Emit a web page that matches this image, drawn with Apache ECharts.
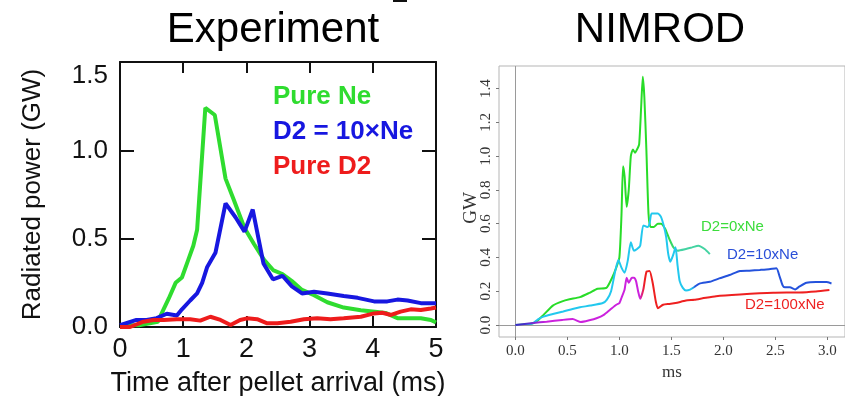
<!DOCTYPE html>
<html>
<head>
<meta charset="utf-8">
<script src="https://cdn.jsdelivr.net/npm/echarts@6/dist/echarts.min.js"></script>
<style>
html,body{margin:0;padding:0;background:#fff;}
#chart{width:845px;height:396px;}
</style>
</head>
<body>
<div id="chart"></div>
<script>
// ---------- Experiment panel data (time ms, power GW) ----------
var expPureNe = [[0,0.01],[0.3,0.01],[0.6,0.03],[0.65,0.07],[0.77,0.16],[0.88,0.25],[0.98,0.28],[1.08,0.38],[1.16,0.46],[1.22,0.55],[1.35,1.24],[1.5,1.2],[1.67,0.84],[1.8,0.72],[1.97,0.56],[2.12,0.47],[2.28,0.38],[2.43,0.32],[2.57,0.30],[2.72,0.26],[2.88,0.21],[3.07,0.18],[3.28,0.14],[3.54,0.11],[3.81,0.095],[4.07,0.085],[4.2,0.08],[4.39,0.05],[4.6,0.05],[4.76,0.05],[4.92,0.04],[5.0,0.025]];
var expD2x10 = [[0,0.01],[0.26,0.04],[0.42,0.04],[0.58,0.05],[0.74,0.075],[0.9,0.065],[0.98,0.1],[1.11,0.15],[1.22,0.19],[1.3,0.25],[1.38,0.34],[1.51,0.42],[1.67,0.70],[1.83,0.62],[1.97,0.54],[2.1,0.665],[2.27,0.36],[2.42,0.27],[2.57,0.29],[2.72,0.23],[2.88,0.19],[3.07,0.2],[3.28,0.19],[3.54,0.175],[3.76,0.165],[4.02,0.145],[4.23,0.145],[4.39,0.155],[4.55,0.15],[4.76,0.135],[5.0,0.135]];
var expPureD2 = [[0,0.0],[0.16,0.0],[0.37,0.03],[0.53,0.04],[0.69,0.04],[0.9,0.044],[1.11,0.044],[1.27,0.036],[1.43,0.058],[1.59,0.04],[1.75,0.011],[1.9,0.04],[2.01,0.049],[2.17,0.044],[2.33,0.021],[2.49,0.021],[2.7,0.03],[2.91,0.044],[3.12,0.049],[3.33,0.044],[3.54,0.049],[3.81,0.058],[4.02,0.077],[4.15,0.081],[4.29,0.068],[4.44,0.087],[4.6,0.1],[4.76,0.096],[4.92,0.105],[5.0,0.11]];
var expXTicks = [0,1,2,3,4,5];
var expYTicks = [0,0.5,1.0,1.5];

// ---------- NIMROD panel data (ms, GW) ----------
var nimD2x0 = [[0,0],[0.14,0.006],[0.2,0.02],[0.27,0.06],[0.36,0.115],[0.45,0.14],[0.52,0.152],[0.62,0.165],[0.71,0.19],[0.79,0.215],[0.875,0.22],[0.93,0.28],[0.97,0.34],[1.0,0.40],[1.02,0.65],[1.035,0.94],[1.05,0.88],[1.07,0.70],[1.09,0.80],[1.11,1.0],[1.13,1.04],[1.15,1.02],[1.17,1.04],[1.19,1.07],[1.21,1.3],[1.225,1.47],[1.24,1.35],[1.26,1.03],[1.28,0.66],[1.30,0.58],[1.33,0.58],[1.37,0.60],[1.40,0.60],[1.44,0.57],[1.48,0.51],[1.52,0.46],[1.56,0.44],[1.64,0.45],[1.70,0.46],[1.76,0.47],[1.82,0.45],[1.87,0.42]];
var nimD2x10 = [[0,0],[0.1,0.002],[0.17,0.01],[0.22,0.035],[0.27,0.05],[0.36,0.065],[0.46,0.08],[0.55,0.095],[0.62,0.105],[0.72,0.115],[0.84,0.13],[0.88,0.15],[0.92,0.2],[0.96,0.32],[0.99,0.385],[1.02,0.34],[1.05,0.31],[1.08,0.38],[1.11,0.49],[1.14,0.44],[1.17,0.45],[1.20,0.47],[1.23,0.59],[1.27,0.58],[1.29,0.6],[1.31,0.66],[1.37,0.66],[1.40,0.64],[1.43,0.58],[1.45,0.52],[1.47,0.42],[1.49,0.375],[1.52,0.42],[1.54,0.46],[1.56,0.35],[1.58,0.26],[1.61,0.22],[1.64,0.205],[1.68,0.21],[1.72,0.225],[1.77,0.245],[1.87,0.256],[1.96,0.276],[2.06,0.296],[2.16,0.32],[2.25,0.322],[2.35,0.326],[2.44,0.33],[2.51,0.336],[2.54,0.29],[2.57,0.235],[2.59,0.223],[2.64,0.223],[2.69,0.211],[2.73,0.227],[2.8,0.25],[2.89,0.254],[2.99,0.254],[3.04,0.246]];
var nimD2x100 = [[0,0],[0.17,0.012],[0.3,0.02],[0.45,0.03],[0.55,0.035],[0.63,0.018],[0.71,0.028],[0.78,0.04],[0.85,0.06],[0.91,0.09],[0.97,0.12],[1.0,0.13],[1.02,0.16],[1.05,0.21],[1.07,0.28],[1.09,0.25],[1.12,0.28],[1.14,0.28],[1.16,0.26],[1.18,0.2],[1.2,0.155],[1.23,0.21],[1.26,0.315],[1.29,0.32],[1.32,0.25],[1.35,0.14],[1.37,0.1],[1.42,0.12],[1.48,0.125],[1.54,0.13],[1.64,0.145],[1.72,0.15],[1.8,0.158],[1.93,0.171],[2.16,0.181],[2.48,0.191],[2.73,0.193],[2.89,0.199],[3.02,0.207]];
var nimXTicks = [0,0.5,1.0,1.5,2.0,2.5,3.0];
var nimYTicks = [0,0.2,0.4,0.6,0.8,1.0,1.2,1.4];

// ---------- styling helpers ----------
var SANS = 'Liberation Sans, Arial, sans-serif';
var SERIF = 'Liberation Serif, Times New Roman, serif';

function grad(data, stops) {
  var x0 = data[0][0], x1 = data[data.length - 1][0];
  return new echarts.graphic.LinearGradient(0, 0, 1, 0, stops.map(function (s) {
    return { offset: Math.max(0, Math.min(1, (s[0] - x0) / (x1 - x0))), color: s[1] };
  }));
}

var chart = echarts.init(document.getElementById('chart'), null, { renderer: 'canvas' });

var frameAxis = { lineStyle: { color: '#111', width: 2 }, onZero: false };
var inTick = { inside: true, length: 11, lineStyle: { color: '#111', width: 2 } };

var option = {
  animation: false,
  backgroundColor: '#fff',
  grid: [
    { left: 120, top: 62, width: 316, height: 265, show: false, containLabel: false, outerBoundsMode: 'none' },
    { left: 499, top: 66, width: 346, height: 271, show: true, borderColor: '#b5b5b5', borderWidth: 1, backgroundColor: 'transparent', containLabel: false, outerBoundsMode: 'none' }
  ],
  xAxis: [
    { gridIndex: 0, type: 'value', min: expXTicks[0], max: expXTicks[expXTicks.length - 1], interval: 1, position: 'bottom',
      axisLine: frameAxis, axisTick: inTick,
      axisLabel: { fontSize: 27, color: '#111', margin: 9, fontFamily: SANS },
      splitLine: { show: false },
      name: 'Time after pellet arrival (ms)', nameLocation: 'middle', nameGap: 43,
      nameTextStyle: { fontSize: 27, color: '#111', fontFamily: SANS } },
    { gridIndex: 0, type: 'value', min: 0, max: 5, interval: 1, position: 'top',
      axisLine: frameAxis, axisTick: inTick, axisLabel: { show: false }, splitLine: { show: false } },
    { gridIndex: 1, type: 'value', min: -0.158, max: 3.17, position: 'bottom',
      axisLine: { show: false, onZero: false },
      axisTick: { show: true, customValues: nimXTicks, length: 3, lineStyle: { color: '#777' } },
      axisLabel: { customValues: nimXTicks, formatter: function (v) { return v.toFixed(1); },
        fontFamily: SERIF, fontSize: 15, color: '#333', margin: 7 },
      splitLine: { show: false },
      name: 'ms', nameLocation: 'middle', nameGap: 26,
      nameTextStyle: { fontFamily: SERIF, fontSize: 17, color: '#333' } }
  ],
  yAxis: [
    { gridIndex: 0, type: 'value', min: expYTicks[0], max: expYTicks[expYTicks.length - 1], interval: 0.5, position: 'left',
      axisLine: frameAxis, axisTick: { inside: true, length: 14, lineStyle: { color: '#111', width: 2 } },
      axisLabel: { fontSize: 26, color: '#111', margin: 12, fontFamily: SANS,
        formatter: function (v) { return v === 1.5 ? '{t|1.5}' : v.toFixed(1); },
        rich: { t: { fontSize: 26, color: '#111', fontFamily: SANS, padding: [28, 0, 0, 0] } } },
      splitLine: { show: false },
      name: 'Radiated power (GW)', nameLocation: 'middle', nameGap: 74, nameRotate: 90,
      nameTextStyle: { fontSize: 26, color: '#111', fontFamily: SANS } },
    { gridIndex: 0, type: 'value', min: 0, max: 1.5, interval: 0.5, position: 'right',
      axisLine: frameAxis, axisTick: { inside: true, length: 14, lineStyle: { color: '#111', width: 2 } },
      axisLabel: { show: false }, splitLine: { show: false } },
    { gridIndex: 1, type: 'value', min: -0.071, max: 1.534, position: 'left',
      axisLine: { show: false, onZero: false },
      axisTick: { show: true, customValues: nimYTicks, length: 3, lineStyle: { color: '#777' } },
      axisLabel: { customValues: nimYTicks, formatter: function (v) { return v.toFixed(1); }, rotate: 90,
        fontFamily: SERIF, fontSize: 15, color: '#333', margin: 5 },
      splitLine: { show: false } }
  ],
  series: [
    { name: 'Pure Ne', type: 'line', xAxisIndex: 0, yAxisIndex: 0, data: expPureNe, showSymbol: false,
      lineStyle: { color: '#2fdc2f', width: 4 }, z: 3 },
    { name: 'D2 = 10×Ne', type: 'line', xAxisIndex: 0, yAxisIndex: 0, data: expD2x10, showSymbol: false,
      lineStyle: { color: '#1717e0', width: 4 }, z: 4 },
    { name: 'Pure D2', type: 'line', xAxisIndex: 0, yAxisIndex: 0, data: expPureD2, showSymbol: false,
      lineStyle: { color: '#ee1c1c', width: 4 }, z: 5 },

    { name: 'D2=0xNe', type: 'line', xAxisIndex: 2, yAxisIndex: 2, data: nimD2x0, showSymbol: false, smooth: 0.2,
      lineStyle: { width: 2, color: grad(nimD2x0, [[0, '#28dc28'], [1.42, '#28dc28'], [1.56, '#44d3a2'], [1.87, '#44d3a2']]) },
      markLine: { silent: true, symbol: 'none', label: { show: false }, animation: false,
        lineStyle: { color: '#9a9a9a', width: 1, type: 'solid' },
        data: [{ xAxis: 0 }, { yAxis: 0 }] }, z: 3 },
    { name: 'D2=10xNe', type: 'line', xAxisIndex: 2, yAxisIndex: 2, data: nimD2x10, showSymbol: false, smooth: 0.2,
      lineStyle: { width: 2, color: grad(nimD2x10, [[0, '#22c8ee'], [1.69, '#22c8ee'], [1.73, '#2452dc'], [3.04, '#2452dc']]) }, z: 4 },
    { name: 'D2=100xNe', type: 'line', xAxisIndex: 2, yAxisIndex: 2, data: nimD2x100, showSymbol: false, smooth: 0.2,
      lineStyle: { width: 2, color: grad(nimD2x100, [[0, '#2f2fc8'], [0.12, '#4a30cc'], [0.32, '#cc22dd'], [1.2, '#cc22dd'], [1.245, '#ee2020'], [3.02, '#ee2020']]) }, z: 5 }
  ],
  graphic: [
    { type: 'text', position: [273, 30], style: { text: 'Experiment', fill: '#000', font: '42px ' + SANS, textAlign: 'center', textVerticalAlign: 'middle' } },
    { type: 'text', position: [660, 30], style: { text: 'NIMROD', fill: '#000', font: '42px ' + SANS, textAlign: 'center', textVerticalAlign: 'middle' } },
    { type: 'line', shape: { x1: 393, y1: 1, x2: 407, y2: 1 }, style: { stroke: '#111', lineWidth: 2 } },
    { type: 'text', position: [273, 97], style: { text: 'Pure Ne', fill: '#2fdc2f', font: 'bold 26px ' + SANS, textAlign: 'left', textVerticalAlign: 'middle' } },
    { type: 'text', position: [273, 132], style: { text: 'D2 = 10×Ne', fill: '#1717e0', font: 'bold 26px ' + SANS, textAlign: 'left', textVerticalAlign: 'middle' } },
    { type: 'text', position: [273, 167], style: { text: 'Pure D2', fill: '#ee1c1c', font: 'bold 26px ' + SANS, textAlign: 'left', textVerticalAlign: 'middle' } },
    { type: 'text', position: [471, 208], rotation: Math.PI / 2, style: { text: 'GW', fill: '#333', font: '19px ' + SERIF, textAlign: 'center', textVerticalAlign: 'middle' } },
    { type: 'text', position: [701, 227], style: { text: 'D2=0xNe', fill: '#3cdc3c', font: '15px ' + SANS, textAlign: 'left', textVerticalAlign: 'middle' } },
    { type: 'text', position: [727, 255], style: { text: 'D2=10xNe', fill: '#2a4fd8', font: '15px ' + SANS, textAlign: 'left', textVerticalAlign: 'middle' } },
    { type: 'text', position: [745, 305], style: { text: 'D2=100xNe', fill: '#ee2222', font: '15px ' + SANS, textAlign: 'left', textVerticalAlign: 'middle' } }
  ]
};
chart.setOption(option);
</script>
</body>
</html>
